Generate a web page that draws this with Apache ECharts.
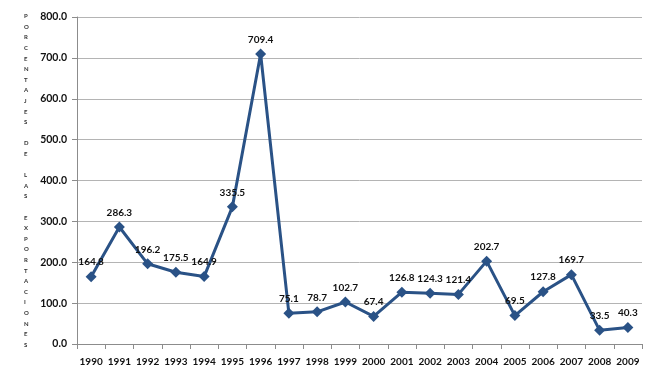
<!DOCTYPE html>
<html>
<head>
<meta charset="utf-8">
<script src="https://cdn.jsdelivr.net/npm/echarts@6/dist/echarts.min.js"></script>
<style>
  html, body { margin: 0; padding: 0; background: #fff; }
  #chart { width: 660px; height: 377px; }
</style>
</head>
<body>
<div id="chart"></div>
<script>
const years = ['1990', '1991', '1992', '1993', '1994', '1995', '1996', '1997', '1998', '1999',
  '2000', '2001', '2002', '2003', '2004', '2005', '2006', '2007', '2008', '2009']
const porcentajes = [164.8, 286.3, 196.2, 175.5, 164.9, 335.5, 709.4, 75.1, 78.7, 102.7,
  67.4, 126.8, 124.3, 121.4, 202.7, 69.5, 127.8, 169.7, 33.5, 40.3]
const yTitle = 'PORCENTAJES DE LAS EXPORTACIONES'

const lineColor = '#2a5286'
const fontFam = 'Lato, "Open Sans", sans-serif'

const chart = echarts.init(document.getElementById('chart'))
chart.setOption({
  backgroundColor: '#fff',
  animation: false,
  grid: {
    left: 77,
    right: 18,
    top: 17,
    bottom: 33
  },
  graphic: [
    {
      type: 'text',
      left: 24,
      top: 11,
      style: {
        // letras apiladas, un hueco por cada espacio
        text: yTitle.split('').join('\n'),
        fontSize: 6,
        fontFamily: fontFam,
        fontWeight: 'bold',
        lineHeight: 10.6,
        fill: '#333',
        align: 'center'
      }
    }
  ],
  xAxis: {
    type: 'category',
    data: years,
    boundaryGap: true,
    axisLine: { lineStyle: { color: '#8c8c8c' } },
    axisTick: { show: true, length: 5, lineStyle: { color: '#8c8c8c' } },
    axisLabel: {
      interval: 0,
      margin: 13,
      color: '#111',
      fontSize: 10,
      fontWeight: 'bold',
      fontFamily: fontFam
    }
  },
  yAxis: {
    type: 'value',
    min: 0,
    max: 800,
    interval: 100,
    axisLine: { show: true, lineStyle: { color: '#8c8c8c' } },
    axisTick: { show: true, length: 5, lineStyle: { color: '#8c8c8c' } },
    splitLine: { lineStyle: { color: '#b4b4b4', width: 1 } },
    axisLabel: {
      margin: 10,
      color: '#111',
      fontSize: 10.5,
      fontWeight: 'bold',
      fontFamily: fontFam,
      formatter: v => v.toFixed(1)
    }
  },
  series: [
    {
      type: 'line',
      data: porcentajes,
      symbol: 'diamond',
      symbolSize: 11,
      lineStyle: { color: lineColor, width: 3 },
      itemStyle: { color: lineColor },
      label: {
        show: true,
        position: 'top',
        distance: 4,
        color: '#111',
        fontSize: 10,
        fontWeight: 'bold',
        fontFamily: fontFam,
        formatter: p => p.value.toFixed(1)
      }
    }
  ]
})
</script>
</body>
</html>
